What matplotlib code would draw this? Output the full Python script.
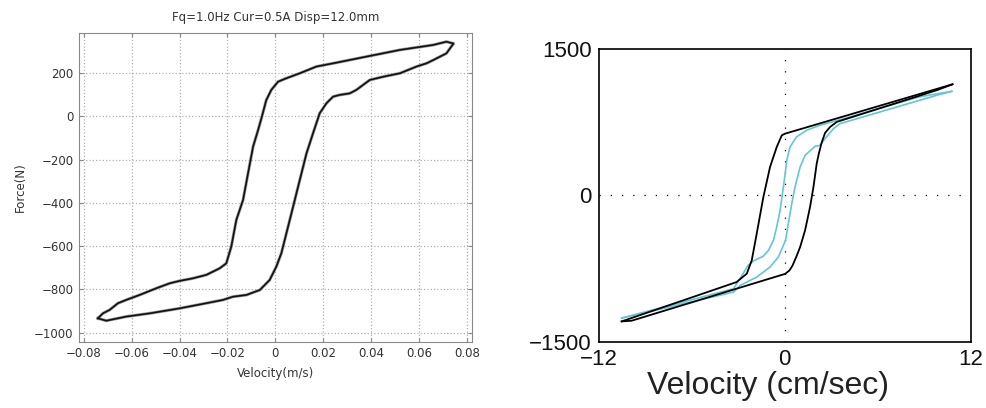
import matplotlib.pyplot as plt

plt.rcParams['font.family'] = ['Liberation Sans', 'DejaVu Sans']

# left panel: measured loop, velocity (m/s) vs force (N)
meas_up_v = [-0.0741, -0.072, -0.0692, -0.0657, -0.0623, -0.0567, -0.0497, -0.0441, -0.040,
             -0.0344, -0.0288, -0.0233, -0.0205, -0.0184, -0.0163, -0.0135, -0.0114, -0.0093,
             -0.0072, -0.0056, -0.0038, -0.0017, 0.0011, 0.0046, 0.0102, 0.0171, 0.0241,
             0.038, 0.052, 0.0659, 0.0714, 0.0742]
meas_up_f = [-934, -911, -895, -864, -849, -826, -795, -772, -761,
             -749, -733, -703, -680, -602, -479, -387, -263, -140,
             -63, 0, 75, 122, 160, 176, 199, 230, 245,
             276, 307, 330, 345, 337]
meas_dn_v = [0.0742, 0.0714, 0.0659, 0.0631, 0.0589, 0.052, 0.045, 0.0394, 0.0338, 0.031,
             0.0269, 0.0241, 0.0213, 0.0185, 0.0157, 0.013, 0.0102, 0.0074, 0.0046, 0.0025,
             0.0004, -0.0024, -0.0065, -0.0121, -0.0177, -0.0219, -0.0288, -0.040, -0.0525,
             -0.0623, -0.0706, -0.0741]
meas_dn_f = [334, 291, 260, 245, 230, 199, 183, 168, 122, 106,
             99, 91, 60, 14, -79, -171, -294, -418, -541, -633,
             -695, -757, -803, -826, -834, -849, -864, -888, -911,
             -926, -945, -934]

# right panel: model (black) and experiment (cyan), velocity (cm/s) vs force (N)
model_up_v = [-10.52, -3.11, -2.45, -2.13, -1.81, -1.38, -0.95, -0.52, -0.19, 0.02, 10.82]
model_up_f = [-1292, -889, -803, -667, -393, -17, 290, 495, 615, 632, 1138]
model_dn_v = [10.82, 9.8, 3.35, 2.92, 2.6, 2.38, 2.2, 2.06, 1.85, 1.63, 1.31, 0.99,
              0.77, 0.5, 0.3, 0.02, -9.88, -10.52]
model_dn_f = [1138, 1077, 752, 700, 640, 540, 430, 325, 85, -120, -359, -530,
              -620, -720, -770, -805, -1285, -1292]

exp_up_v = [-10.52, -3.3, -2.69, -2.37, -2.04, -1.4, -1.05, -0.73, -0.52, -0.3, -0.03,
            0.13, 0.34, 0.75, 1.41, 2.27, 3.46, 8.7, 10.77]
exp_up_f = [-1258, -957, -803, -718, -673, -625, -564, -461, -325, -154, 154,
            359, 495, 598, 667, 718, 770, 1010, 1066]
exp_dn_v = [10.77, 9.8, 3.57, 3.14, 2.7, 2.27, 1.95, 1.31, 0.99, 0.66, 0.45, 0.23,
            0.05, -0.41, -0.95, -1.81, -2.88, -3.3, -10.52]
exp_dn_f = [1066, 1025, 735, 684, 600, 513, 502, 410, 290, 85, -85, -290,
            -461, -632, -735, -838, -923, -991, -1258]

fig = plt.figure(figsize=(9.87, 4.08), dpi=100)

# ---- left panel
left_font = dict(family='DejaVu Sans', size=8.5, color='#333333')
ax1 = fig.add_axes([0.080, 0.162, 0.398, 0.757])
ax1.plot(meas_up_v, meas_up_f, color='#999999', lw=2.2)
ax1.plot(meas_dn_v, meas_dn_f, color='#999999', lw=2.2)
ax1.plot(meas_up_v, meas_up_f, color='#111111', lw=1.2)
ax1.plot(meas_dn_v, meas_dn_f, color='#111111', lw=1.2)
ax1.set_xlim(-0.082, 0.082)
ax1.set_ylim(-1043, 385)
ax1.set_xticks([-0.08, -0.06, -0.04, -0.02, 0, 0.02, 0.04, 0.06, 0.08])
ax1.set_xticklabels(['−0.08', '−0.06', '−0.04', '−0.02', '0', '0.02', '0.04', '0.06', '0.08'])
ax1.set_yticks([-1000, -800, -600, -400, -200, 0, 200])
ax1.set_yticklabels(['−1000', '−800', '−600', '−400', '−200', '0', '200'])
for lbl in ax1.get_xticklabels() + ax1.get_yticklabels():
    lbl.set_fontfamily('DejaVu Sans')
ax1.grid(True, linestyle=':', color='#b0b0b0', lw=0.9)
ax1.tick_params(direction='in', length=3, color='#888888', labelsize=8.5,
                labelcolor='#333333', top=True, right=True, pad=4)
for s in ax1.spines.values():
    s.set_color('#888888')
ax1.set_title('Fq=1.0Hz Cur=0.5A Disp=12.0mm', fontdict=left_font, pad=9)
ax1.set_xlabel('Velocity(m/s)', fontdict=left_font, labelpad=5)
ax1.set_ylabel('Force(N)', fontdict=left_font, labelpad=5)

# ---- right panel
ax2 = fig.add_axes([0.6066, 0.1625, 0.377, 0.7175])
ax2.axhline(0, color='black', ls=(0, (1, 8)), lw=0.9)
ax2.axvline(0, color='black', ls=(0, (1, 8)), lw=0.9)
ax2.plot(exp_up_v, exp_up_f, color='#62c6d6', lw=1.2)
ax2.plot(exp_dn_v, exp_dn_f, color='#62c6d6', lw=1.2)
ax2.plot(model_up_v, model_up_f, color='black', lw=1.3)
ax2.plot(model_dn_v, model_dn_f, color='black', lw=1.3)
ax2.set_xlim(-12, 12)
ax2.set_ylim(-1500, 1500)
ax2.set_xticks([-12, 0, 12])
ax2.set_xticklabels(['−12', '0', '12'])
ax2.set_yticks([-1500, 0, 1500])
ax2.set_yticklabels(['−1500', '0', '1500'])
ax2.tick_params(length=0, labelsize=16, pad=5, colors='#111111')
for s in ax2.spines.values():
    s.set_linewidth(1.2)
ax2.set_xlabel('Velocity (cm/sec)', fontsize=23, color='#222222')
ax2.xaxis.set_label_coords(0.455, -0.1)
ax2.xaxis.label.set_va('top')

fig.savefig('out.png', dpi=100)
